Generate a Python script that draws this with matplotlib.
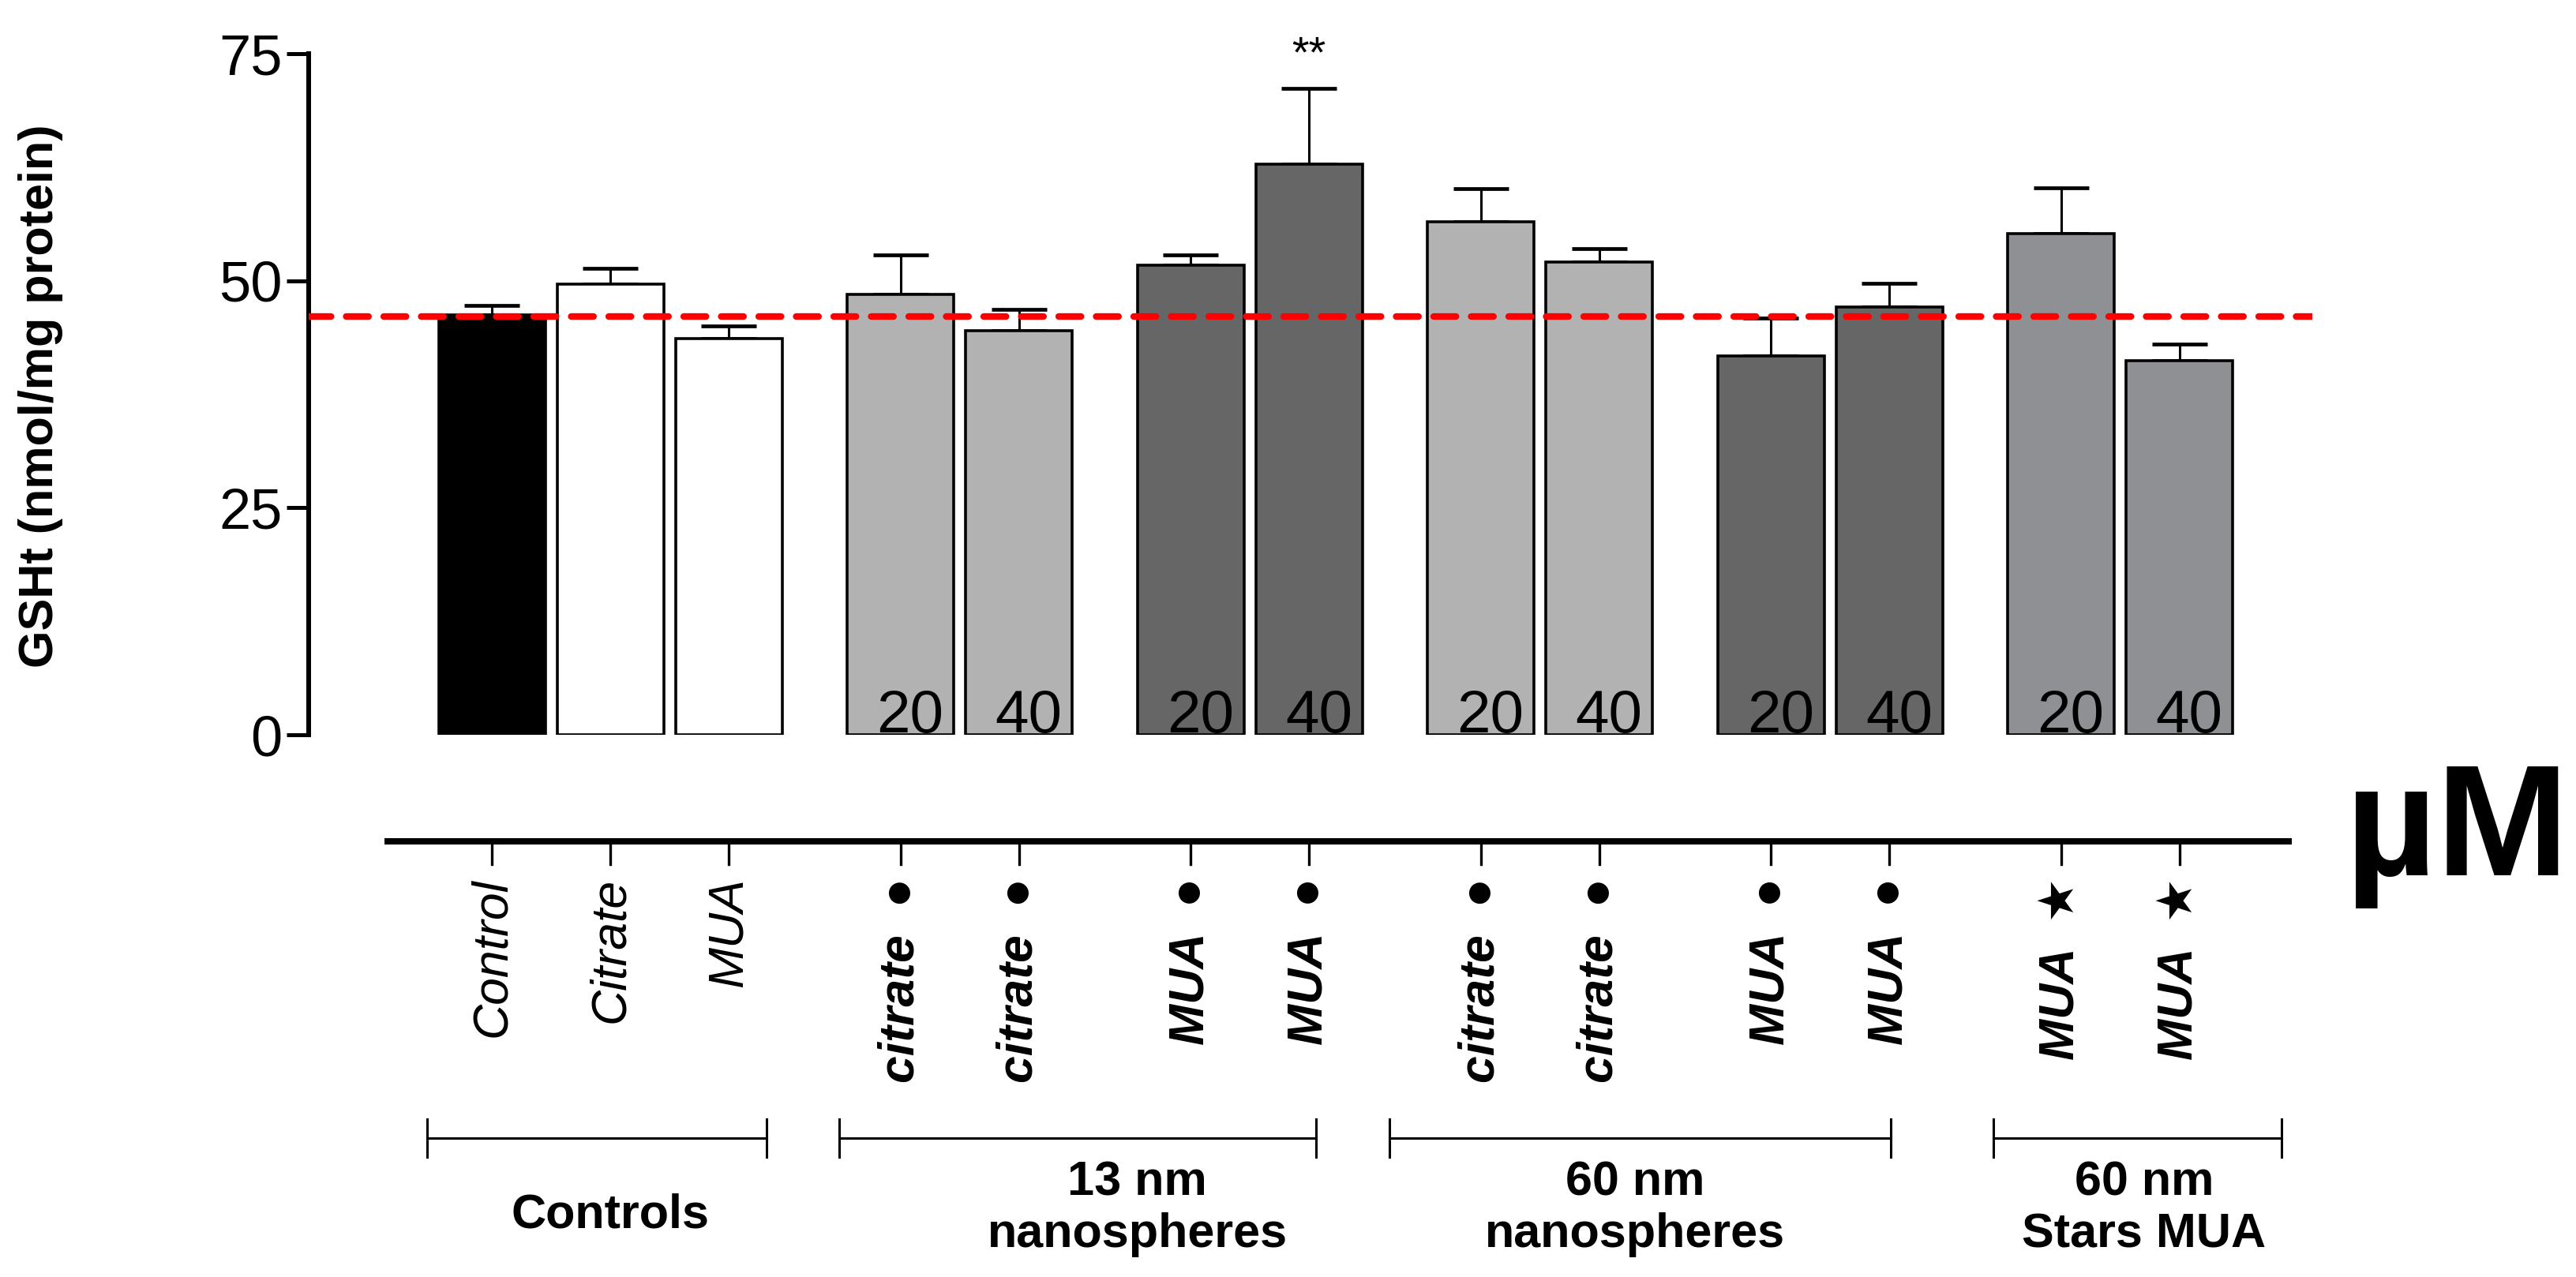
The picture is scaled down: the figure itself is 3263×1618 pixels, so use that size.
import matplotlib
matplotlib.use("Agg")
import matplotlib.pyplot as plt
import numpy as np

# data
groups = ["Control", "Citrate", "MUA",
          "citrate  ●", "citrate  ●", "MUA  ●", "MUA  ●",
          "citrate  ●", "citrate  ●", "MUA  ●", "MUA  ●",
          "MUA  ★", "MUA  ★"]
means = [46.2, 49.6, 43.6, 48.5, 44.5, 51.7, 62.8, 56.5, 52.1, 41.7, 47.1, 55.2, 41.2]
sems = [1.1, 1.8, 1.4, 4.3, 2.3, 1.1, 8.4, 3.6, 1.4, 4.2, 2.6, 5.0, 1.8]
doses = ["", "", "", "20", "40", "20", "40", "20", "40", "20", "40", "20", "40"]
colors = ["#000000", "#ffffff", "#ffffff",
          "#b2b2b2", "#b2b2b2", "#666666", "#666666",
          "#b2b2b2", "#b2b2b2", "#666666", "#666666",
          "#8f9094", "#8f9094"]
control_mean = 46.1
group_names = ["Controls", "13 nm\nnanospheres", "60 nm\nnanospheres", "60 nm\nStars MUA"]
yticks = [0, 25, 50, 75]

# layout
W, H = 3263, 1618
sub_sizes = [3, 2, 2, 2, 2, 2]
gap = 0.45
x = []
pos = 0.0
for n in sub_sizes:
    for i in range(n):
        x.append(pos)
        pos += 1
    pos += gap
x = np.array(x)
xlim = (-1.547, 15.37)
brackets = [(-0.55, 2.32), (2.93, 6.96), (7.58, 11.81), (12.68, 15.11)]
label_x = [1.0, 5.45, 9.65, 13.95]

sans = ["Liberation Sans", "DejaVu Sans"]
plt.rcParams["font.family"] = sans

fig = plt.figure(figsize=(W / 100, H / 100), dpi=100)

ax = fig.add_axes([391 / W, (H - 931) / H, (2929 - 391) / W, (931 - 68) / H])
ax.bar(x, means, width=0.9, color=colors, edgecolor="black", linewidth=2.6, zorder=2)
ax.errorbar(x, means, yerr=[np.zeros(len(sems)), sems], fmt="none", ecolor="black",
            elinewidth=2.2, capsize=25, capthick=3.4, zorder=1)
ax.axhline(control_mean, color="#ff0000", linewidth=6, linestyle=(0, (3.4, 2.3)),
           dash_capstyle="round", zorder=5)
for xi, d in zip(x, doses):
    if d:
        ax.text(xi + 0.08, 0.3, d, ha="center", va="baseline", fontsize=55, zorder=3)
ax.text(x[6], 72.5, "**", ha="center", va="bottom", fontsize=40)

ax.set_xlim(*xlim)
ax.set_ylim(0, 75)
ax.set_yticks(yticks)
ax.set_xticks([])
for s in ["top", "right", "bottom"]:
    ax.spines[s].set_visible(False)
ax.spines["left"].set_linewidth(4.3)
ax.tick_params(axis="y", direction="out", length=20, width=3.6, pad=4, labelsize=52)

# lower label panel in pixel coordinates
ax2 = fig.add_axes([391 / W, 0, (2929 - 391) / W, 1], zorder=-1)
ax2.set_xlim(*xlim)
ax2.set_ylim(H, 0)
ax2.axis("off")

ax2.plot([-0.907, 15.2], [1066, 1066], color="black", linewidth=5.8, solid_capstyle="butt")
for i, (xi, lab) in enumerate(zip(x, groups)):
    ax2.plot([xi, xi], [1066, 1095], color="black", linewidth=2.4)
    weight = "normal" if i < 3 else "bold"
    ax2.text(xi, 1112, lab, rotation=90, ha="center", va="top", fontsize=45,
             style="italic", weight=weight, family=sans)

for (a, b), lx, name in zip(brackets, label_x, group_names):
    ax2.plot([a, b], [1442, 1442], color="black", linewidth=2.2)
    ax2.plot([a, a], [1418, 1466], color="black", linewidth=2.2)
    ax2.plot([b, b], [1418, 1466], color="black", linewidth=2.2)
    yc = 1540 if "\n" not in name else 1532
    ax2.text(lx, yc, name, ha="center", va="center", fontsize=44, weight="bold",
             linespacing=1.2)

ax2.text(15.65, 1109, "µM", ha="left", va="baseline", fontsize=145, weight="bold")

fig.text(52 / W, 1 - 502 / H, "GSHt (nmol/mg protein)", rotation=90, ha="center",
         va="center", fontsize=44, weight="bold")

fig.savefig("out.png", dpi=100, facecolor="white")
